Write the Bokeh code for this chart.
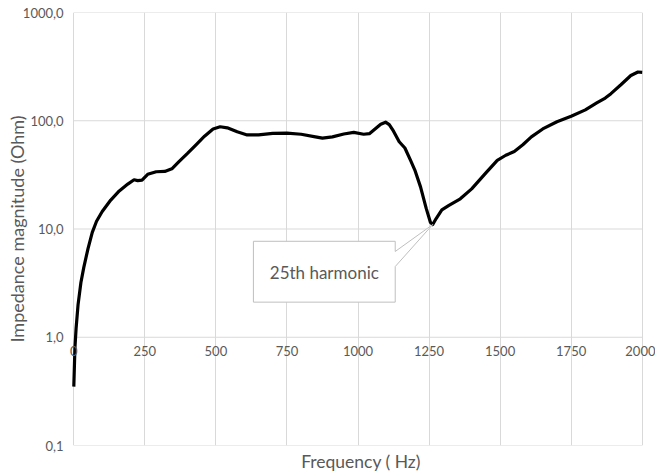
from bokeh.plotting import figure
from bokeh.models import FixedTicker, Range1d, ColumnDataSource, LinearAxis
from bokeh.core.properties import value
from bokeh.embed import file_html
from bokeh.resources import INLINE

# ---- data ----
freq_hz = [0, 4, 8, 15, 25, 35, 50, 65, 80, 100, 130, 160, 190, 212, 225, 240, 260, 290,
           320, 345, 370, 400, 430, 460, 490, 515, 540, 575, 610, 650, 700, 750, 800, 850,
           875, 910, 950, 985, 1020, 1040, 1060, 1080, 1097, 1110, 1125, 1145, 1165, 1185,
           1200, 1220, 1240, 1255, 1263, 1275, 1295, 1320, 1360, 1400, 1450, 1490, 1520,
           1550, 1580, 1610, 1650, 1700, 1750, 1800, 1840, 1870, 1890, 1925, 1960, 1985, 2000]
impedance_ohm = [0.35, 0.8, 1.2, 2.0, 3.2, 4.4, 6.6, 9.3, 11.8, 14.5, 18.5, 22.5, 26.0, 28.5,
                 28.0, 28.3, 32.0, 33.8, 34.0, 36.0, 42.0, 50.0, 60.0, 72.0, 84.0, 88.0, 86.0,
                 79.0, 74.0, 74.0, 76.5, 77.0, 75.0, 71.0, 69.0, 71.0, 75.5, 78.0, 75.0, 76.0,
                 84.0, 93.0, 97.0, 92.0, 80.0, 64.0, 56.0, 43.0, 35.0, 24.5, 15.5, 11.5, 11.0,
                 12.5, 15.0, 16.5, 19.0, 23.5, 33.0, 43.0, 48.0, 52.0, 60.0, 71.0, 84.0, 98.0,
                 110.0, 126.0, 146.0, 162.0, 178.0, 215.0, 262.0, 282.0, 280.0]

x_ticks = [0, 250, 500, 750, 1000, 1250, 1500, 1750, 2000]
x_tick_labels = ["0", "250", "500", "750", "1000", "1250", "1500", "1750", "2000"]
y_ticks = [0.1, 1, 10, 100, 1000]
y_tick_labels = ["0,1", "1,0", "10,0", "100,0", "1000,0"]
x_axis_crossing = 1.0

callout_text = "25th harmonic"
harmonic_freq = 1263
harmonic_z = 11.0

FONT = "Lato"
GREY = "#595959"
GRID = "#d9d9d9"

# The frame is a little wider than the 0..2000 plot area so that the
# tick labels "0" and "2000" at its ends are not clipped.
X_MIN, X_MAX = 0, 2000
PAD_L, PAD_R = 25.7, 46.8

p = figure(width=655, height=474, y_axis_type="log",
           x_range=Range1d(X_MIN - PAD_L, X_MAX + PAD_R), y_range=Range1d(0.1, 1000),
           output_backend="svg", toolbar_location=None,
           min_border_left=66, min_border_right=0, min_border_top=12, min_border_bottom=28)
p.background_fill_color = "white"
p.border_fill_color = "white"
p.outline_line_color = None

# grids: vertical via the grid, horizontal limited to the 0..2000 plot area
p.xgrid.ticker = FixedTicker(ticks=x_ticks)
p.xgrid.grid_line_color = GRID
p.xgrid.grid_line_width = 1
p.ygrid.grid_line_color = None
p.segment(x0=[X_MIN] * len(y_ticks), x1=[X_MAX] * len(y_ticks), y0=y_ticks, y1=y_ticks,
          line_color=GRID, line_width=1)

# y axis
p.yaxis.ticker = FixedTicker(ticks=y_ticks)
p.yaxis.major_label_overrides = {t: l for t, l in zip(y_ticks, y_tick_labels)}
p.yaxis.axis_line_color = None
p.yaxis.major_tick_line_color = None
p.yaxis.minor_tick_line_color = None
p.yaxis.major_tick_out = 0
p.yaxis.major_tick_in = 0
p.yaxis.minor_tick_out = 0
p.yaxis.major_label_standoff = 3
p.yaxis.major_label_text_font = FONT
p.yaxis.major_label_text_font_size = "13px"
p.yaxis.major_label_text_color = GREY
p.yaxis.axis_label = "Impedance magnitude (Ohm)"
p.yaxis.axis_label_text_font = FONT
p.yaxis.axis_label_text_font_size = "18px"
p.yaxis.axis_label_text_font_style = "normal"
p.yaxis.axis_label_text_color = GREY
p.yaxis.axis_label_standoff = -8

# x axis (title only)
p.xaxis.ticker = FixedTicker(ticks=[])
p.xaxis.axis_line_color = None
p.xaxis.major_tick_line_color = None
p.xaxis.minor_tick_line_color = None
p.xaxis.major_tick_out = 0
p.xaxis.minor_tick_out = 0
p.xaxis.major_label_standoff = 0
p.xaxis.axis_label = "Frequency ( Hz)"
p.xaxis.axis_label_text_font = FONT
p.xaxis.axis_label_text_font_size = "17.5px"
p.xaxis.axis_label_text_font_style = "normal"
p.xaxis.axis_label_text_color = GREY
p.xaxis.axis_label_standoff = 5

# curve
src = ColumnDataSource(dict(f=freq_hz, z=impedance_ohm))
p.line(x="f", y="z", source=src, line_color="black", line_width=3.2,
       line_join="round", line_cap="butt")

# x tick labels: an axis that crosses at 1,0
cross_axis = LinearAxis(fixed_location=x_axis_crossing, ticker=FixedTicker(ticks=x_ticks),
                        major_label_overrides={t: l for t, l in zip(x_ticks, x_tick_labels)})
cross_axis.axis_line_color = None
cross_axis.major_tick_line_color = None
cross_axis.minor_tick_line_color = None
cross_axis.major_tick_out = 0
cross_axis.major_tick_in = 0
cross_axis.minor_tick_out = 0
cross_axis.major_label_standoff = 9
cross_axis.major_label_text_font = FONT
cross_axis.major_label_text_font_size = "13px"
cross_axis.major_label_text_color = GREY
p.add_layout(cross_axis, "below")

# callout box with pointer to the 25th harmonic dip
box_l, box_r, box_top, box_bot = 632, 1131, 7.7, 2.11
ptr_hi, ptr_lo = 6.2, 4.5
p.patch(x=[box_l, box_r, box_r, harmonic_freq, box_r, box_r, box_l],
        y=[box_top, box_top, ptr_hi, harmonic_z, ptr_lo, box_bot, box_bot],
        fill_color="white", line_color="#bfbfbf", line_width=1)
p.text(x=[(box_l + box_r) / 2], y=[4.0], text=[callout_text],
       text_align="center", text_baseline="middle",
       text_font=value(FONT), text_font_size="17px", text_color=GREY)

open("out.html", "w").write(file_html(p, INLINE))
